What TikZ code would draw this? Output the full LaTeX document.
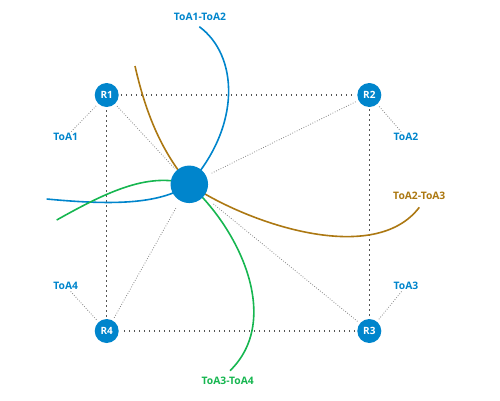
\documentclass[tikz,border=0pt]{standalone}
\usepackage{fontspec}
\setmainfont{Open Sans}
\definecolor{nblue}{RGB}{0,133,204}
\definecolor{cbrown}{RGB}{172,120,18}
\definecolor{cgreen}{RGB}{22,182,80}
\definecolor{dgray}{RGB}{85,85,85}
\definecolor{lgray}{RGB}{135,135,135}
\tikzset{
  router/.style={circle,fill=nblue,minimum size=24pt,inner sep=0pt,text=white,font=\fontsize{10}{12}\selectfont\bfseries},
  hubnode/.style={circle,fill=nblue,minimum size=37.5pt,inner sep=0pt},
  toalabel/.style={font=\fontsize{10.3}{12}\selectfont\bfseries,inner sep=1.5pt},
  mainlink/.style={draw=dgray,line width=1.5pt,dash pattern=on 1.5pt off 3.5pt,shorten <=2pt,shorten >=2pt},
  finelink/.style={draw=lgray,line width=0.8pt,dash pattern=on 0.8pt off 1.7pt},
  curve/.style={line width=1.6pt}
}
\begin{document}
\begin{tikzpicture}[x=1pt,y=-1pt]
\useasboundingbox (0,0) rectangle (500,400);
% nodes
\node[router] (R1) at (106.7,95) {R1};
\node[router] (R2) at (369.3,95) {R2};
\node[router] (R3) at (369.3,331) {R3};
\node[router] (R4) at (106.7,331) {R4};
\coordinate (hc) at (189.3,184.3);
% labels
\node[toalabel,text=nblue] (L1) at (65.7,137.3) {ToA1};
\node[toalabel,text=nblue] (L2) at (406,137.3) {ToA2};
\node[toalabel,text=nblue] (L3) at (406,286) {ToA3};
\node[toalabel,text=nblue] (L4) at (65.7,286) {ToA4};
\node[toalabel,text=nblue] (L12) at (200,17.3) {ToA1-ToA2};
\node[toalabel,text=cbrown] (L23) at (419.3,196) {ToA2-ToA3};
\node[toalabel,text=cgreen] (L34) at (227.7,380.7) {ToA3-ToA4};
% curve free ends
\coordinate (b1) at (199.3,26.7);
\coordinate (b2) at (46.7,199);
\coordinate (o1) at (135,66);
\coordinate (o2) at (419.3,207.3);
\coordinate (g1) at (56.7,220);
\coordinate (g2) at (230,370.7);
% main dotted square
\draw[mainlink] (R1) -- (R2);
\draw[mainlink] (R2) -- (R3);
\draw[mainlink] (R3) -- (R4);
\draw[mainlink] (R4) -- (R1);
% fine dotted links
\draw[finelink,shorten <=3pt] (R1) -- (L1);
\draw[finelink,shorten <=3pt] (R2) -- (L2);
\draw[finelink,shorten <=3pt] (R3) -- (L3);
\draw[finelink,shorten <=3pt] (R4) -- (L4);
\draw[finelink,shorten <=3pt,shorten >=21pt] (R1) -- (hc);
\draw[finelink,shorten <=3pt,shorten >=25pt] (R2) -- (hc);
\draw[finelink,shorten <=3pt,shorten >=30pt] (R3) -- (hc);
\draw[finelink,shorten <=3pt,shorten >=26pt] (R4) -- (hc);
% curves
\draw[curve,draw=nblue] (b1) .. controls (238,55) and (242,125) .. (hc);
\draw[curve,draw=nblue] (hc) .. controls (160,205) and (110,205) .. (b2);
\draw[curve,draw=cbrown] (o1) .. controls (145,110) and (160,150) .. (hc);
\draw[curve,draw=cbrown] (hc) .. controls (250,225) and (375,266) .. (o2);
\draw[curve,draw=cgreen] (g1) .. controls (110,190) and (150,172) .. (hc);
\draw[curve,draw=cgreen] (hc) .. controls (240,230) and (282,320) .. (g2);
% hub on top
\node[hubnode] (hub) at (hc) {};
\end{tikzpicture}
\end{document}
